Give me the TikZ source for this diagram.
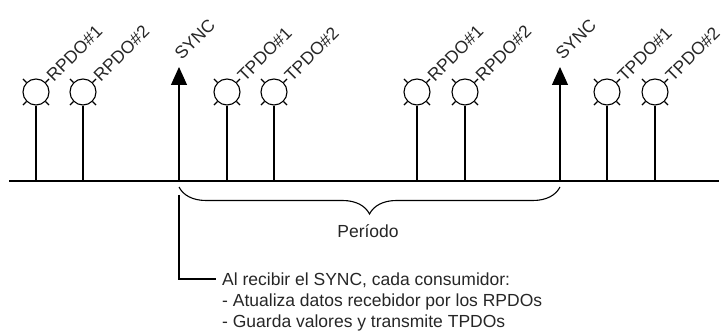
\documentclass[tikz,border=0pt]{standalone}
\usepackage{fontspec}
\setmainfont{Liberation Sans}
\usetikzlibrary{decorations.pathreplacing,arrows.meta,calc}
\begin{document}
\begin{tikzpicture}[x=1pt,y=1pt,
  wire/.style={line width=1.1pt, black},
  pdo/.style={circle, draw, line width=1.1pt, minimum size=26pt, inner sep=0pt},
  lbl/.style={rotate=45, anchor=west, inner sep=0.6pt, font=\fontsize{17.5}{21}\selectfont, text=black!85},
  txt/.style={font=\fontsize{17.5}{21}\selectfont, inner sep=0pt, text=black!85}]
\useasboundingbox (0,0) rectangle (727,-336);
\coordinate (L) at (9,-181);
\coordinate (R) at (719,-181);
\draw[wire] (L) -- (R);
\foreach \n/\x/\t in {a/36/RPDO\#1, b/83/RPDO\#2, c/227/TPDO\#1, d/274/TPDO\#2,
                       e/417/RPDO\#1, f/465/RPDO\#2, g/607/TPDO\#1, h/655/TPDO\#2}{
  \node[pdo] (\n) at (\x,-92) {};
  \coordinate (\n b) at (\x,-181);
  \draw[wire] (\n) -- (\n b);
  \foreach \ang in {45,135,225,315}
    \draw[wire] (\n.\ang) -- ($(\n.center)+(\ang:18.5)$);
  \node[lbl] (\n l) at ($(\n.center)+(45:18.5)$) {\t};
}
\foreach \n/\x in {s/179, t/560}{
  \coordinate (\n b) at (\x,-181);
  \coordinate (\n t) at (\x,-67);
  \draw[wire, -{Triangle[length=18pt,width=16pt]}] (\n b) -- (\n t);
  \node[lbl, anchor=south west] (\n l) at ($(\n t)+(3,5)$) {SYNC};
}
\coordinate (br1) at (179,-187);
\coordinate (br2) at (560,-187);
\draw[wire, decorate, decoration={brace, mirror, amplitude=27pt}] (br1) -- (br2);
\node[txt, anchor=base] (per) at (368,-238) {Período};
\coordinate (lc) at (179,-195);
\node[txt, anchor=west, inner xsep=6pt, text height=12.6pt, text depth=0pt] (n1) at (216,-279) {Al recibir el SYNC, cada consumidor:};
\node[txt, anchor=base west] (n2) at (222,-306) {- Atualiza datos recebidor por los RPDOs};
\node[txt, anchor=base west] (n3) at (222,-327) {- Guarda valores y transmite TPDOs};
\draw[wire] (lc) |- (n1.west);
\end{tikzpicture}
\end{document}
